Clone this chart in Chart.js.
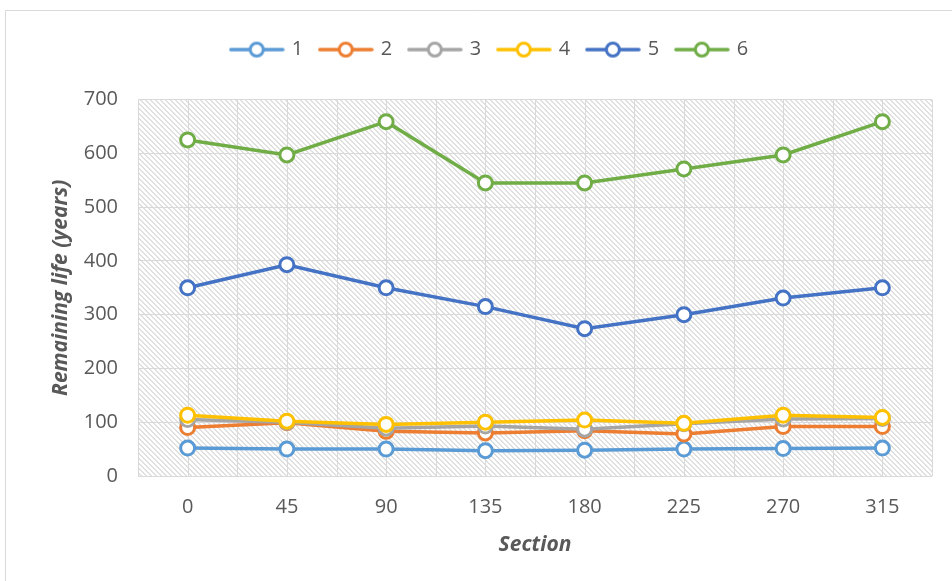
<!DOCTYPE html>
<html>
<head>
<meta charset="utf-8">
<script src="https://cdn.jsdelivr.net/npm/chart.js@4/dist/chart.umd.min.js"></script>
<style>
  html, body { margin: 0; padding: 0; background: #ffffff; }
  #wrap { width: 952px; height: 581px; position: relative; }
</style>
</head>
<body>
<div id="wrap"><canvas id="chart"></canvas></div>
<script>
// Section angles along the x axis
const categories = ['0', '45', '90', '135', '180', '225', '270', '315'];

// Remaining life (years) for each case
const series1 = [52, 50, 50, 47, 48, 50, 51, 52];
const series2 = [90, 99, 83, 80, 84, 78, 92, 92];
const series3 = [105, 100, 89, 93, 87, 97, 106, 107];
const series4 = [113, 102, 96, 100, 104, 98, 113, 109];
const series5 = [350, 393, 350, 315, 274, 300, 331, 350];
const series6 = [625, 597, 659, 545, 545, 571, 597, 659];

const seriesNames = ['1', '2', '3', '4', '5', '6'];
const seriesValues = [series1, series2, series3, series4, series5, series6];
const seriesColors = ['#5B9BD5', '#ED7D31', '#A5A5A5', '#FFC000', '#4472C4', '#70AD47'];

const yTicks = { min: 0, max: 700, step: 100 };

const TEXT = '#595959';
const GRID = '#d9d9d9';

Chart.defaults.font.family = '"Open Sans", sans-serif';

// Small line-with-marker swatch used for each legend entry
function legendSwatch(color) {
  const c = document.createElement('canvas');
  c.width = 56; c.height = 20;
  const g = c.getContext('2d');
  g.strokeStyle = color;
  g.lineWidth = 3.5;
  g.lineCap = 'round';
  g.beginPath(); g.moveTo(2, 10); g.lineTo(54, 10); g.stroke();
  g.beginPath(); g.arc(28, 10, 6.5, 0, Math.PI * 2);
  g.fillStyle = '#ffffff'; g.fill();
  g.lineWidth = 3; g.stroke();
  return c;
}

// Diagonal hatch fill for the plot area
function hatchPattern(ctx) {
  const n = 5;
  const c = document.createElement('canvas');
  c.width = n; c.height = n;
  const g = c.getContext('2d');
  const img = g.createImageData(n, n);
  for (let y = 0; y < n; y++) {
    for (let x = 0; x < n; x++) {
      const on = (((x - y) % n) + n) % n < 2;
      const v = on ? 224 : 255;
      const k = (y * n + x) * 4;
      img.data[k] = v; img.data[k + 1] = v; img.data[k + 2] = v; img.data[k + 3] = 255;
    }
  }
  g.putImageData(img, 0, 0);
  return ctx.createPattern(c, 'repeat');
}

const plotBackdrop = {
  id: 'plotBackdrop',
  beforeLayout(chart) {
    // leave a gap between the legend row and the plot
    const lg = chart.legend;
    if (lg && !lg._gapAdded) {
      const fit = lg.fit;
      lg.fit = function () { fit.call(this); this.height += 30; };
      lg._gapAdded = true;
    }
  },
  beforeDraw(chart) {
    const { ctx, chartArea: a } = chart;
    ctx.save();
    // outer frame
    ctx.strokeStyle = GRID;
    ctx.lineWidth = 1;
    ctx.beginPath();
    ctx.moveTo(5.5, chart.height);
    ctx.lineTo(5.5, 10.5);
    ctx.lineTo(chart.width, 10.5);
    ctx.stroke();
    // hatched plot background
    ctx.fillStyle = hatchPattern(ctx);
    ctx.fillRect(a.left, a.top, a.right - a.left, a.bottom - a.top);
    ctx.restore();
  },
  beforeDatasetsDraw(chart) {
    const { ctx, chartArea: a } = chart;
    const x = chart.scales.x;
    const step = x.getPixelForValue(1) - x.getPixelForValue(0);
    ctx.save();
    ctx.strokeStyle = GRID;
    ctx.lineWidth = 1;
    ctx.beginPath();
    for (let i = 0; i < categories.length; i++) {
      const c = x.getPixelForValue(i);
      const spots = [c - step / 2, c];
      if (i === categories.length - 1) spots.push(c + step / 2);
      for (const px of spots) {
        const p = Math.round(px) + 0.5;
        ctx.moveTo(p, a.top);
        ctx.lineTo(p, a.bottom);
      }
    }
    ctx.stroke();
    ctx.restore();
  }
};

const datasets = seriesNames.map((name, i) => ({
  label: name,
  data: seriesValues[i],
  borderColor: seriesColors[i],
  backgroundColor: '#ffffff',
  borderWidth: 3.5,
  tension: 0,
  pointRadius: 7,
  pointHoverRadius: 7,
  pointBorderWidth: 3,
  pointBackgroundColor: '#ffffff',
  pointBorderColor: seriesColors[i],
  order: seriesNames.length - i
}));

new Chart(document.getElementById('chart'), {
  type: 'line',
  data: { labels: categories, datasets },
  plugins: [plotBackdrop],
  options: {
    responsive: true,
    maintainAspectRatio: false,
    animation: false,
    layout: { padding: { left: 48, right: 20, top: 22, bottom: 20 } },
    plugins: {
      tooltip: { enabled: false },
      legend: {
        position: 'top',
        labels: {
          usePointStyle: true,
          pointStyleWidth: 50,
          padding: 17.6,
          color: TEXT,
          font: { size: 20 },
          generateLabels(chart) {
            return chart.data.datasets.map((ds, i) => ({
              text: ds.label,
              pointStyle: legendSwatch(ds.borderColor),
              fillStyle: '#ffffff',
              strokeStyle: ds.borderColor,
              lineWidth: 0,
              fontColor: TEXT,
              datasetIndex: i,
              hidden: false
            }));
          }
        }
      }
    },
    scales: {
      x: {
        type: 'category',
        offset: true,
        grid: { display: false, drawTicks: false },
        border: { display: false },
        ticks: { color: TEXT, font: { size: 20 }, padding: 19, maxRotation: 0 },
        title: {
          display: true,
          text: 'Section',
          color: TEXT,
          font: { size: 21, weight: 'bold', style: 'italic' },
          padding: { top: 10, bottom: 3 }
        },
        afterFit(scale) { scale.height = 85; }
      },
      y: {
        min: yTicks.min,
        max: yTicks.max,
        grid: { color: GRID, lineWidth: 1, drawTicks: false },
        border: { display: false },
        ticks: { stepSize: yTicks.step, color: TEXT, font: { size: 20 }, padding: 20 },
        title: {
          display: true,
          text: 'Remaining life (years)',
          color: TEXT,
          font: { size: 21, weight: 'bold', style: 'italic' },
          padding: { top: 0, bottom: 10 }
        },
        afterFit(scale) { scale.width = 90; }
      }
    }
  }
});
</script>
</body>
</html>
